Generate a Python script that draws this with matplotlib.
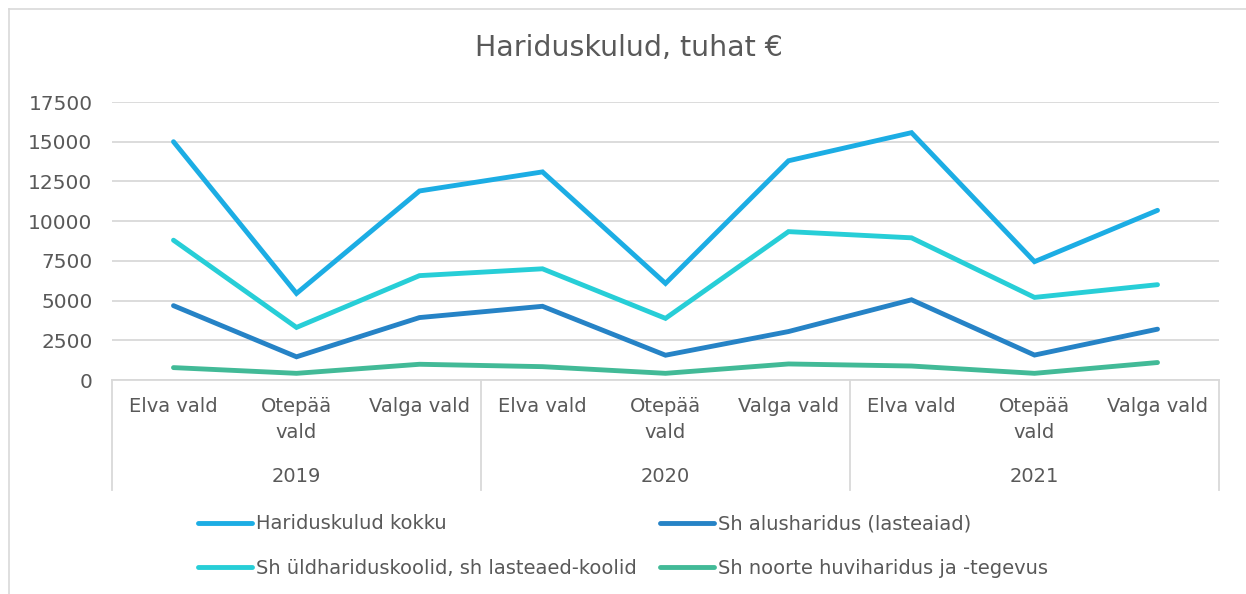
import matplotlib
matplotlib.use("Agg")
import matplotlib.pyplot as plt
from matplotlib.lines import Line2D

# ---- data ----
years = ["2019", "2020", "2021"]
municipalities = ["Elva vald", "Otepää vald", "Valga vald"]
series_names = [
    "Hariduskulud kokku",
    "Sh alusharidus (lasteaiad)",
    "Sh üldhariduskoolid, sh lasteaed-koolid",
    "Sh noorte huviharidus ja -tegevus",
]
kokku = [15000, 5450, 11900, 13100, 6080, 13800, 15570, 7450, 10680]
alusharidus = [4680, 1460, 3930, 4640, 1560, 3050, 5050, 1570, 3200]
yldharidus = [8800, 3310, 6570, 7000, 3880, 9340, 8950, 5200, 6000]
huviharidus = [780, 420, 990, 840, 420, 1010, 880, 420, 1100]
yticks = [0, 2500, 5000, 7500, 10000, 12500, 15000, 17500]
title = "Hariduskulud, tuhat €"

colors = ["#1CADE4", "#2683C6", "#27CED7", "#42BA97"]
text_color = "#595959"
grid_color = "#D9D9D9"

plt.rcParams["font.family"] = ["DejaVu Sans"]

W, H = 1246, 594
fig = plt.figure(figsize=(W / 100, H / 100), dpi=100)

# outer chart border (left and top visible)
fig.add_artist(Line2D([9 / W, 9 / W], [0, 1 - 9 / H], color=grid_color, lw=1.2))
fig.add_artist(Line2D([9 / W, 1], [1 - 9 / H, 1 - 9 / H], color=grid_color, lw=1.2))

left, right, top, bottom = 112, 1219, 102, 380
ax = fig.add_axes([left / W, 1 - bottom / H, (right - left) / W, (bottom - top) / H])

cats = [(y, m) for y in years for m in municipalities]
x = list(range(len(cats)))
all_series = [kokku, alusharidus, yldharidus, huviharidus]
lines = []
for vals, c, name in zip(all_series, colors, series_names):
    ln, = ax.plot(x, vals, color=c, lw=3.5, solid_capstyle="round",
                  solid_joinstyle="miter", label=name, zorder=3)
    lines.append(ln)

ax.set_xlim(-0.5, len(cats) - 0.5)
ax.set_ylim(0, 17500)
ax.set_yticks(yticks)
ax.set_yticklabels([str(v) for v in yticks])
ax.tick_params(axis="y", length=0, pad=14, labelsize=14.5, labelcolor=text_color)
ax.set_xticks([])
ax.grid(axis="y", color=grid_color, lw=1.3, zorder=0)
for s in ["top", "right", "left"]:
    ax.spines[s].set_visible(False)
ax.spines["bottom"].set_color(grid_color)
ax.spines["bottom"].set_linewidth(1.3)

pxh = bottom - top
def yfrac(py):
    return (bottom - py) / pxh

tr = ax.get_xaxis_transform()
wrapped = {"Otepää vald": "Otepää\nvald"}
for i, (yr, m) in enumerate(cats):
    ax.text(i, yfrac(397), wrapped.get(m, m), transform=tr, ha="center", va="top",
            fontsize=14, color=text_color, linespacing=1.45, clip_on=False)
for j, yr in enumerate(years):
    ax.text(j * 3 + 1, yfrac(476), yr, transform=tr, ha="center", va="center",
            fontsize=14, color=text_color, clip_on=False)
for b in [-0.5, 2.5, 5.5, 8.5]:
    ax.plot([b, b], [0, yfrac(490)], transform=tr, color=grid_color, lw=1.3,
            clip_on=False)

fig.text(629 / W, 1 - 48 / H, title, ha="center", va="center",
         fontsize=20.5, color=text_color)

order = [0, 2, 1, 3]
leg = fig.legend([lines[k] for k in order], [series_names[k] for k in order],
                 ncol=2, loc="center", bbox_to_anchor=(0.5, 1 - 546 / H),
                 frameon=False, fontsize=14, labelcolor=text_color,
                 handlelength=2.8, handletextpad=0.2, columnspacing=1.2,
                 labelspacing=1.3)

fig.savefig("out.png", dpi=100, facecolor="white")
